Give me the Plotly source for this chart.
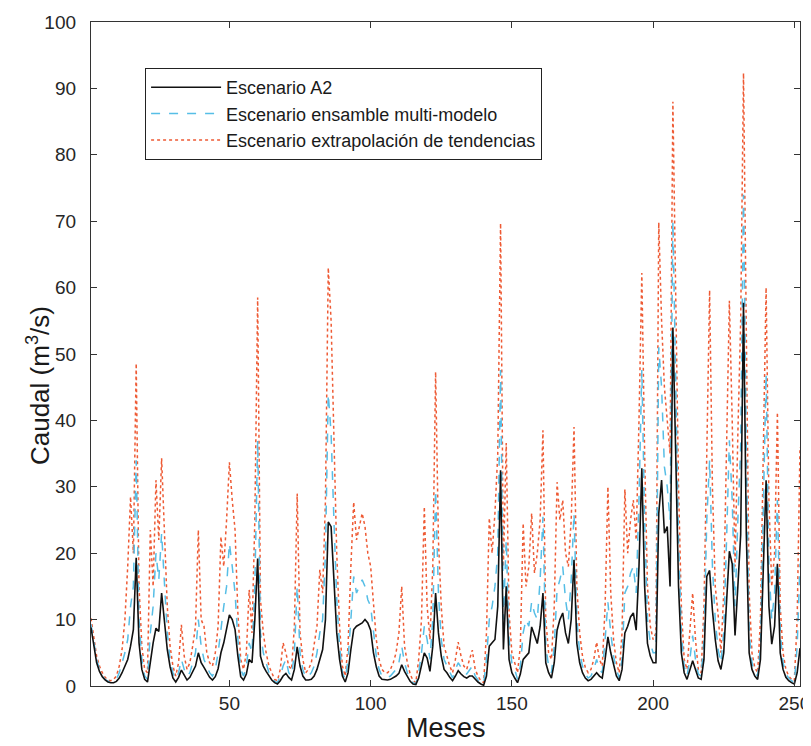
import plotly.graph_objects as go

# Caudal mensual (m3/s) - Escenario A2
escenario_a2 = [
    8.8, 6.0, 3.5, 2.2, 1.4, 0.9, 0.6, 0.5, 0.5, 0.7,
    1.2, 2.0, 3.0, 4.0, 6.0, 8.5, 19.3, 6.5, 2.5, 1.0,
    0.6, 4.0, 6.5, 8.7, 8.2, 14.0, 10.0, 5.5, 2.9, 1.2,
    0.6, 1.3, 2.4, 1.6, 0.9, 1.3, 2.2, 3.0, 5.0, 3.5,
    2.8, 2.0, 1.3, 0.9, 1.4, 2.6, 5.0, 6.5, 8.5, 10.7,
    10.0, 8.5, 4.5, 1.4, 0.9, 1.8, 4.0, 3.5, 10.0, 19.2,
    4.5, 3.0, 2.2, 1.5, 0.9, 0.5, 0.3, 0.8, 1.5, 1.9,
    1.3, 0.9, 2.5, 5.9, 3.0, 1.5, 0.9, 0.9, 1.0, 1.5,
    2.5, 4.0, 5.5, 10.0, 24.7, 24.0, 16.0, 8.0, 4.0, 1.5,
    0.6, 2.0, 5.5, 8.5, 9.0, 9.2, 9.5, 10.0, 9.5, 8.4,
    5.0, 2.9, 1.5, 1.0, 0.9, 0.9, 1.0, 1.2, 1.5, 1.9,
    3.2, 2.2, 1.4, 0.7, 0.3, 0.2, 1.2, 3.0, 5.0, 4.2,
    2.2, 6.0, 14.0, 8.0, 4.5, 2.5, 2.0, 1.3, 0.8, 1.5,
    2.3, 1.8, 1.4, 1.2, 1.5, 1.5, 1.0, 0.6, 0.3, 0.1,
    1.5, 6.0, 6.5, 7.0, 12.0, 32.5, 5.5, 15.0, 4.0, 2.0,
    1.2, 0.5, 1.8, 4.0, 4.5, 5.0, 8.9, 7.5, 6.4, 9.0,
    14.0, 3.5, 2.0, 1.2, 3.5, 8.4, 10.0, 11.0, 8.0, 6.4,
    10.0, 19.0, 6.4, 3.5, 2.0, 1.2, 0.8, 1.0, 1.5, 2.0,
    1.5, 1.2, 4.0, 7.4, 5.0, 3.0, 1.5, 0.8, 2.5, 8.0,
    9.0, 10.4, 11.0, 8.4, 18.0, 32.8, 15.0, 6.4, 4.5, 3.5,
    3.5, 26.0, 31.0, 23.0, 24.0, 15.0, 54.0, 35.0, 15.0, 5.0,
    2.0, 1.0, 2.5, 3.8, 2.5, 1.2, 1.0, 4.0, 16.5, 17.4,
    11.4, 7.0, 3.8, 2.5, 5.0, 13.3, 20.3, 18.4, 7.6, 15.0,
    22.8, 57.7, 22.8, 5.0, 2.5, 1.5, 1.0, 4.0, 16.5, 31.0,
    12.0, 6.3, 9.0, 18.4, 5.0, 2.5, 1.3, 0.8, 0.5, 0.3,
    2.0, 5.7,
]

# Escenario ensamble multi-modelo
escenario_ensamble = [
    9.3, 6.5, 4.0, 2.5, 1.5, 1.0, 0.7, 0.6, 0.7, 1.0,
    2.0, 3.5, 5.0, 7.0, 12.0, 15.0, 34.0, 10.0, 4.0, 1.5,
    1.0, 8.0, 12.0, 20.0, 16.0, 23.0, 15.0, 8.0, 4.0, 2.0,
    1.0, 2.0, 4.0, 2.5, 1.5, 2.0, 3.5, 5.0, 10.0, 6.0,
    4.0, 3.0, 2.0, 1.5, 2.5, 5.0, 9.0, 12.0, 15.0, 21.5,
    18.0, 14.0, 7.0, 2.5, 1.5, 3.0, 6.5, 5.0, 15.0, 37.0,
    8.0, 5.0, 3.5, 2.0, 1.3, 0.7, 0.5, 1.5, 3.0, 4.0,
    2.0, 1.5, 5.0, 15.0, 5.0, 2.5, 1.3, 1.5, 2.0, 3.0,
    5.0, 8.0, 10.0, 20.0, 44.0, 38.0, 25.0, 13.0, 6.0, 2.0,
    1.0, 4.0, 10.0, 16.5, 14.0, 15.0, 16.0, 15.0, 13.0, 12.0,
    8.0, 4.5, 2.5, 1.5, 1.3, 1.3, 1.5, 2.0, 2.5, 3.5,
    6.0, 3.5, 2.0, 1.0, 0.5, 0.3, 2.0, 5.0, 9.0, 7.0,
    4.0, 10.0, 29.5, 14.0, 7.0, 4.0, 3.0, 2.0, 1.2, 2.5,
    3.5, 2.8, 2.0, 1.8, 2.5, 3.0, 1.5, 0.9, 0.5, 0.3,
    4.0, 10.0, 12.0, 15.0, 20.0, 47.6, 10.0, 22.0, 7.0, 3.5,
    2.5, 1.0, 3.0, 8.0, 10.0, 9.0, 12.7, 11.0, 10.0, 16.0,
    25.5, 6.0, 3.0, 2.0, 6.0, 14.5, 16.0, 18.0, 13.0, 10.0,
    16.0, 26.0, 10.0, 5.0, 3.0, 1.8, 1.2, 1.5, 2.5, 4.0,
    2.5, 2.0, 7.0, 12.6, 8.0, 4.5, 2.5, 1.2, 4.0, 14.0,
    15.0, 17.0, 18.0, 14.0, 28.0, 47.6, 25.0, 10.0, 6.5, 5.0,
    5.0, 51.0, 45.0, 33.0, 30.0, 25.0, 70.0, 45.0, 22.0, 8.0,
    3.0, 1.5, 4.0, 7.6, 4.0, 1.8, 1.5, 7.0, 25.0, 34.0,
    18.0, 10.0, 5.5, 3.5, 8.0, 22.0, 37.0, 28.0, 12.0, 25.0,
    36.0, 74.0, 35.0, 8.0, 3.5, 2.0, 1.5, 6.0, 26.0, 47.0,
    18.0, 10.0, 14.0, 28.0, 8.0, 3.5, 1.8, 1.2, 0.8, 0.5,
    6.0, 18.4,
]

# Escenario extrapolación de tendencias
escenario_extrapolacion = [
    10.2, 7.0, 4.5, 3.0, 2.0, 1.3, 0.9, 0.8, 1.0, 1.5,
    3.0, 5.5, 10.0, 18.0, 28.5, 20.0, 48.6, 15.0, 6.0, 2.5,
    2.0, 23.5, 15.0, 31.0, 22.0, 34.3, 22.0, 12.0, 6.0, 3.0,
    1.5, 3.5, 9.2, 4.5, 2.5, 3.5, 6.0, 9.0, 23.5, 10.0,
    9.0, 5.0, 3.5, 3.0, 5.0, 9.0, 22.5, 18.0, 25.0, 33.7,
    28.0, 23.5, 11.0, 4.0, 2.5, 5.0, 14.5, 8.0, 25.0, 58.5,
    13.0, 8.0, 5.0, 3.0, 2.0, 1.0, 0.8, 2.5, 6.5, 5.0,
    3.0, 2.5, 9.0, 29.0, 8.0, 4.0, 2.0, 2.5, 3.5, 6.0,
    9.0, 17.5, 14.0, 28.0, 63.0, 55.0, 37.0, 20.0, 9.0, 3.0,
    1.5, 6.0, 18.0, 27.7, 22.0, 24.0, 26.0, 24.0, 20.0, 18.0,
    12.0, 7.0, 4.0, 2.5, 2.0, 2.0, 2.5, 3.5, 5.0, 8.0,
    15.0, 6.0, 3.5, 1.8, 0.8, 0.5, 4.0, 10.0, 27.0, 12.0,
    7.0, 18.0, 47.3, 22.0, 12.0, 6.0, 4.5, 3.0, 2.0, 4.0,
    6.6, 4.5, 3.0, 2.5, 4.0, 5.4, 2.5, 1.5, 0.8, 0.5,
    8.0, 25.3, 20.0, 26.0, 35.0, 69.7, 18.0, 36.6, 11.0, 5.0,
    3.5, 2.0, 6.0, 24.5, 15.0, 18.0, 26.0, 17.0, 20.0, 25.0,
    38.5, 10.0, 5.0, 4.0, 12.0, 30.7, 25.0, 28.0, 20.0, 18.0,
    25.0, 39.0, 15.0, 8.0, 4.5, 2.8, 2.0, 2.5, 4.0, 6.6,
    4.0, 3.0, 12.0, 30.0, 14.0, 7.0, 3.5, 2.0, 8.0, 29.6,
    20.0, 25.0, 28.0, 22.0, 40.0, 62.2, 35.0, 15.0, 9.0, 7.0,
    8.0, 69.8, 55.0, 45.0, 40.0, 35.0, 88.0, 60.0, 30.0, 12.0,
    4.0, 2.5, 8.0, 14.0, 7.0, 2.5, 2.0, 12.0, 35.0, 59.6,
    30.0, 15.0, 10.8, 5.0, 14.0, 35.0, 58.0, 40.0, 18.0, 38.0,
    55.0, 92.3, 50.0, 14.0, 5.0, 2.8, 2.0, 10.0, 35.0, 60.0,
    28.0, 15.0, 20.0, 41.2, 12.0, 5.0, 2.5, 1.5, 1.0, 0.8,
    10.0, 36.0,
]

x_ticks = [50, 100, 150, 200, 250]
y_ticks = [0, 10, 20, 30, 40, 50, 60, 70, 80, 90, 100]


def meses(serie):
    return list(range(1, len(serie) + 1))


FONT = "Liberation Sans, Arial, sans-serif"

fig = go.Figure()
fig.add_trace(go.Scatter(
    x=meses(escenario_extrapolacion), y=escenario_extrapolacion, mode="lines",
    name="Escenario extrapolación de tendencias", legendrank=3,
    line=dict(color="#EE5A34", width=1.5, dash="dot"),
))
fig.add_trace(go.Scatter(
    x=meses(escenario_ensamble), y=escenario_ensamble, mode="lines",
    name="Escenario ensamble multi-modelo", legendrank=2,
    line=dict(color="#56BEE6", width=1.5, dash="dash"),
))
fig.add_trace(go.Scatter(
    x=meses(escenario_a2), y=escenario_a2, mode="lines",
    name="Escenario A2", legendrank=1,
    line=dict(color="#111111", width=1.6),
))

axis_common = dict(
    showline=True, linecolor="#333333", linewidth=1.3, mirror="ticks",
    ticks="inside", ticklen=6, tickcolor="#333333", showgrid=False,
    zeroline=False, automargin=False,
    tickfont=dict(size=19, color="#262626", family=FONT),
)

fig.update_layout(
    width=803, height=738,
    margin=dict(l=83, r=11, t=14, b=60),
    paper_bgcolor="white", plot_bgcolor="white",
    font=dict(family=FONT, color="#1a1a1a"),
    xaxis=dict(range=[1, 252], tickvals=x_ticks, **axis_common),
    yaxis=dict(range=[0, 100], tickvals=y_ticks, ticklabelstandoff=10,
               **axis_common),
    legend=dict(x=0.076, y=0.931, xanchor="left", yanchor="top",
                bordercolor="#222222", borderwidth=1.2, bgcolor="white",
                font=dict(size=18, color="#1a1a1a"),
                tracegroupgap=0, itemwidth=70),
    showlegend=True,
    annotations=[
        dict(text="Caudal (m<sup>3</sup>/s)", textangle=-90,
             xref="paper", yref="paper", x=-0.075, y=0.453,
             xanchor="center", yanchor="middle", showarrow=False,
             font=dict(size=26, color="#1a1a1a", family=FONT)),
        dict(text="Meses",
             xref="paper", yref="paper", x=0.5, y=-0.064,
             xanchor="center", yanchor="middle", showarrow=False,
             font=dict(size=27, color="#1a1a1a", family=FONT)),
    ],
)

fig.write_html("out.html")
